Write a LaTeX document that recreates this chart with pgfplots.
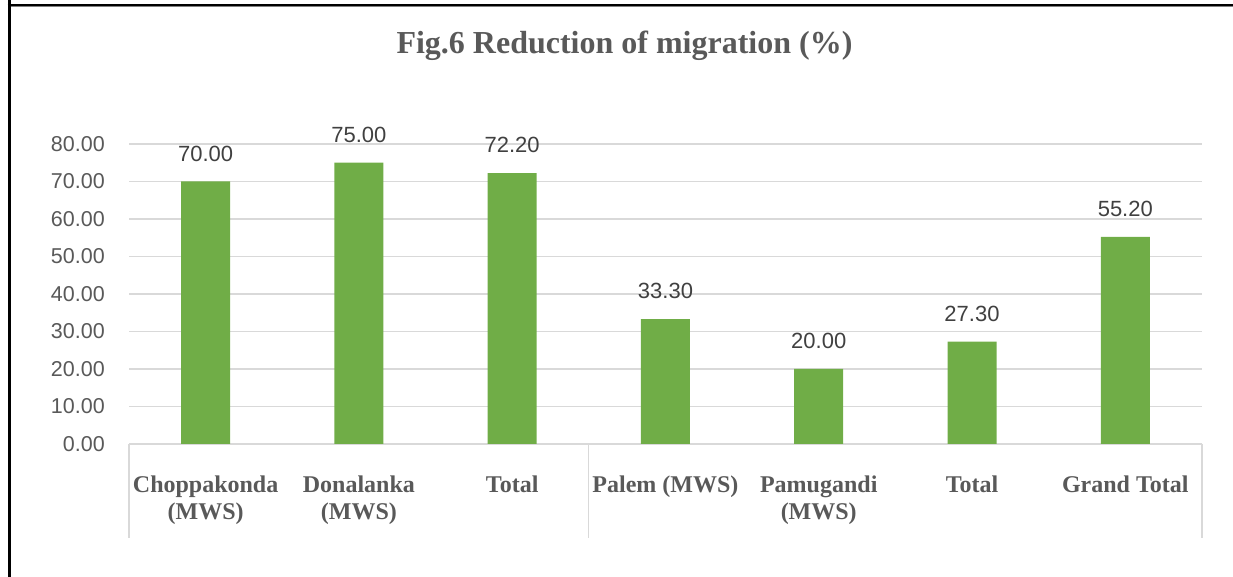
\documentclass[border=0pt]{standalone}
\usepackage{fontspec}
\setmainfont{Liberation Serif}
\newfontfamily\sansnum{Liberation Sans}
\usepackage{pgfplots}
\pgfplotsset{compat=1.18}
\definecolor{bargreen}{HTML}{70AD47}
\definecolor{txtgray}{HTML}{595959}
\definecolor{lblgray}{HTML}{404040}
\definecolor{gridgray}{HTML}{D9D9D9}
\begin{document}
\begin{tikzpicture}[x=1pt,y=1pt]
\useasboundingbox (0,0) rectangle (1233,577);
\draw[black, line width=3pt] (9,0) -- (9,577);
\draw[black, line width=2.2pt] (7.5,572.2) -- (1233,572.2);
\draw[gray, line width=0.8pt] (10.5,570.5) -- (1233,570.5);
\node[font=\fontsize{32}{38}\selectfont\bfseries, text=txtgray, anchor=base, inner sep=0pt] at (624.5,523) {Fig.6 Reduction of migration (\%)};
\begin{axis}[
  at={(129pt,133pt)}, anchor=south west,
  scale only axis, width=1073pt, height=300pt,
  ybar, bar width=49pt,
  xmin=-0.5, xmax=6.5, ymin=0, ymax=80,
  ytick={0,10,...,80},
  xtick={0,...,6},
  xticklabels={{Choppakonda\\(MWS)},{Donalanka\\(MWS)},{Total},{Palem (MWS)},{Pamugandi\\(MWS)},{Total},{Grand Total}},
  axis line style={draw=none},
  major tick length=0pt,
  ymajorgrids, grid style={gridgray, line width=1.3pt},
  /pgf/number format/assume math mode=true,
  yticklabel style={font=\sansnum\fontsize{21.5}{24}\selectfont, text=txtgray, inner sep=0pt, anchor=east, xshift=-24pt,
     /pgf/number format/fixed, /pgf/number format/fixed zerofill, /pgf/number format/precision=2},
  xticklabel style={font=\fontsize{24}{26.5}\selectfont\bfseries, text=txtgray, align=center, inner sep=0pt, anchor=north, yshift=-32pt},
  nodes near coords={\pgfmathprintnumber[fixed,fixed zerofill,precision=2,assume math mode=true]{\pgfplotspointmeta}},
  every node near coord/.append style={font=\sansnum\fontsize{22}{24}\selectfont, text=lblgray, anchor=south, inner sep=0pt, yshift=20pt},
  clip=false,
]
\addplot[fill=bargreen, draw=none] coordinates {(0,70) (1,75) (2,72.2) (3,33.3) (4,20) (5,27.3) (6,55.2)};
\draw[gridgray, line width=1.3pt] (axis cs:-0.5,0) -- ([yshift=-94pt]axis cs:-0.5,0);
\draw[gridgray, line width=1.3pt] (axis cs:2.5,0) -- ([yshift=-94pt]axis cs:2.5,0);
\draw[gridgray, line width=1.3pt] (axis cs:6.5,0) -- ([yshift=-94pt]axis cs:6.5,0);
\end{axis}
\end{tikzpicture}
\end{document}
